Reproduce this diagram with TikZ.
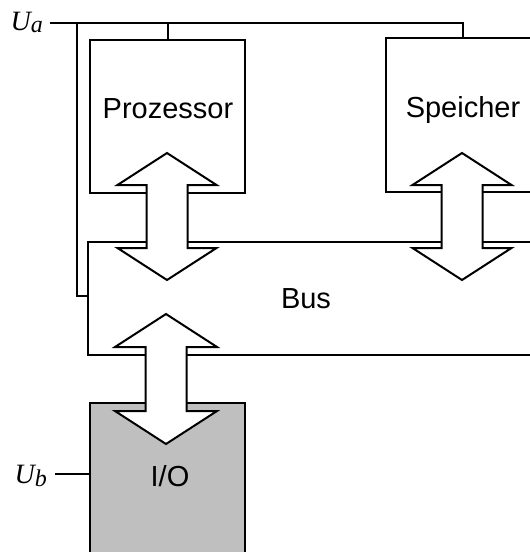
\documentclass[tikz,border=0pt]{standalone}
\usepackage{fontspec}
\setmainfont{Liberation Serif}
\setsansfont{Liberation Sans}
\usetikzlibrary{positioning}
\definecolor{iogray}{HTML}{BFBFBF}
\newcommand{\volti}[1]{U\raisebox{-2.5pt}{\fontsize{24}{28}\selectfont #1}}
\tikzset{
  unit/.style={
    draw=black,
    line width=2pt,
    fill=white,
    inner sep=0pt
  },
  unitname/.style={
    font=\sffamily\fontsize{29}{34}\selectfont,
    anchor=base
  },
  volt/.style={
    font=\itshape\fontsize{28}{33}\selectfont,
    anchor=base east,
    inner sep=0pt
  },
  wire/.style={
    draw=black,
    line width=2pt
  },
  busarrow/.style={
    draw=black,
    line width=2pt,
    fill=white
  }
}

\begin{document}
\begin{tikzpicture}[x=1pt,y=-1pt]
  \useasboundingbox (0,0) rectangle (530,552);
  \clip (0,0) rectangle (530,552);

  \node[unit, minimum width=155pt, minimum height=153pt] (proc) at (167.5,116.5) {};
  \node[unit, minimum width=154pt, minimum height=154pt] (mem) at (463,115) {};
  \node[unit, minimum width=480pt, minimum height=113pt] (bus) at (328,298.5) {};
  \node[unit, fill=iogray, minimum width=155pt, minimum height=160pt] (io) at (167.5,483) {};

  \node[unitname] (proctext) at (168,118.5) {Prozessor};
  \node[unitname] (memtext) at (463,117) {Speicher};
  \node[unitname] (bustext) at (306,308) {Bus};
  \node[unitname] (iotext) at (170,486) {I/O};

  \node[volt] (ua) at (43,30) {\volti{a}};
  \node[volt] (ub) at (47,483.5) {\volti{b}};

  \coordinate (uaend) at (50,23);
  \coordinate (uatap) at (77,23);
  \coordinate (ubend) at (55,474);

  % supply lines
  \draw[wire] (uaend) -| (mem.north);
  \draw[wire] (proc.north) -- (proc.north |- uaend);
  \draw[wire] (uatap) |- ([yshift=2.5pt]bus.west);
  \draw[wire] (ubend) -- (ubend -| io.west);

  % bus transfers
  \draw[busarrow] (167,153) -- ++(49.5,32) -- ++(-29,0) -- ++(0,63) -- ++(29,0)
    -- ++(-49.5,32) -- ++(-49.5,-32) -- ++(29,0) -- ++(0,-63) -- ++(-29,0) -- cycle;
  \draw[busarrow] (462,153) -- ++(49.5,32) -- ++(-29,0) -- ++(0,63) -- ++(29,0)
    -- ++(-49.5,32) -- ++(-49.5,-32) -- ++(29,0) -- ++(0,-63) -- ++(-29,0) -- cycle;
  \draw[busarrow] (166,314) -- ++(51,33) -- ++(-30.5,0) -- ++(0,64) -- ++(30.5,0)
    -- ++(-51,33) -- ++(-51,-33) -- ++(30.5,0) -- ++(0,-64) -- ++(-30.5,0) -- cycle;
\end{tikzpicture}
\end{document}
